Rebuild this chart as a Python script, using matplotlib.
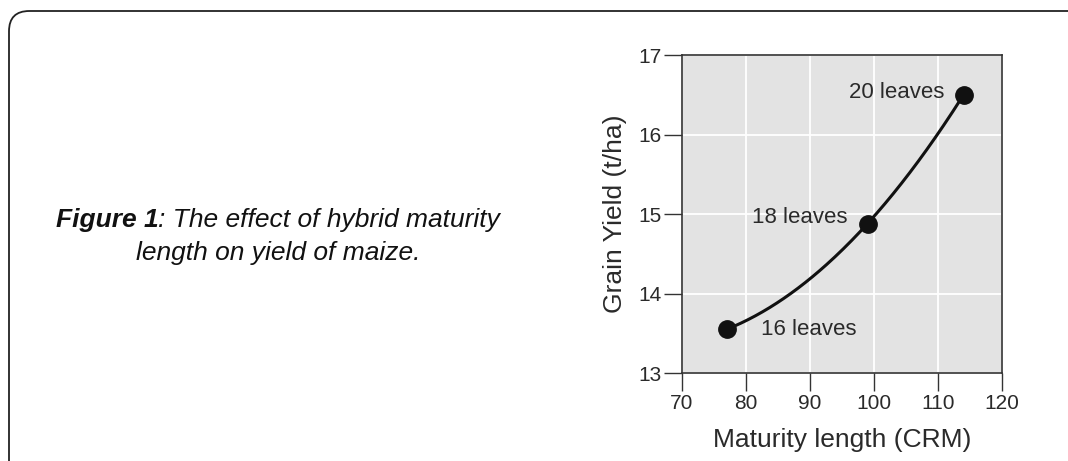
import numpy as np
import matplotlib
matplotlib.use("Agg")
import matplotlib.pyplot as plt
from matplotlib.patches import FancyBboxPatch

plt.rcParams['font.family'] = ['Liberation Sans', 'DejaVu Sans']

crm = [77, 99, 114]
yield_tha = [13.55, 14.88, 16.5]
labels = ["16 leaves", "18 leaves", "20 leaves"]
xticks = [70, 80, 90, 100, 110, 120]
yticks = [13, 14, 15, 16, 17]

W, H = 1068, 461
fig = plt.figure(figsize=(W / 100, H / 100), dpi=100)

# rounded frame (extends off the right/bottom edges)
frame = FancyBboxPatch((9 / W, -40 / H), (1100 - 9) / W, (H - 11 + 40) / H,
                       boxstyle="round,pad=0,rounding_size=0.019",
                       transform=fig.transFigure, fill=False,
                       edgecolor="#222222", linewidth=1.3, mutation_aspect=W / H)
fig.patches.append(frame)

ax = fig.add_axes([682 / W, 1 - 373 / H, 320 / W, 318 / H])
ax.set_facecolor("#e3e3e3")
ax.set_xlim(70, 120)
ax.set_ylim(13, 17)
ax.set_xticks(xticks)
ax.set_yticks(yticks)
ax.grid(True, color="white", linewidth=1.3)
ax.set_axisbelow(True)
for s in ax.spines.values():
    s.set_color("#333333")
    s.set_linewidth(1.2)
ax.tick_params(axis="both", direction="out", length=13, width=1.0,
               color="#333333", labelsize=15, labelcolor="#2a2a2a", pad=2)

# smooth curve through the points
coef = np.polyfit(crm, yield_tha, 2)
xs = np.linspace(min(crm), max(crm), 200)
ax.plot(xs, np.polyval(coef, xs), color="#111111", linewidth=2.2, zorder=3)
ax.plot(crm, yield_tha, "o", color="#111111", markersize=12.5, zorder=4)

offsets = [(34, 0, "left"), (-20, 6, "right"), (-19, 2, "right")]
for x, y, lab, (dx, dy, ha) in zip(crm, yield_tha, labels, offsets):
    ax.annotate(lab, (x, y), xytext=(dx, dy), textcoords="offset pixels",
                ha=ha, va="center", fontsize=16, color="#2a2a2a", zorder=5)

ax.set_xlabel("Maturity length (CRM)", fontsize=19, color="#2a2a2a", labelpad=11)
ax.set_ylabel("Grain Yield (t/ha)", fontsize=19, color="#2a2a2a", labelpad=8)

# caption (two centred lines, first with a bold-italic lead)
fig.canvas.draw()
r = fig.canvas.get_renderer()
cx = 278
fs = 19
lead = fig.text(0, 0, "Figure 1", fontsize=fs, fontweight="bold",
                fontstyle="italic", color="#111111", ha="left", va="baseline")
rest = fig.text(0, 0, ": The effect of hybrid maturity", fontsize=fs,
                fontstyle="italic", color="#111111", ha="left", va="baseline")
w1 = lead.get_window_extent(renderer=r).width
w2 = rest.get_window_extent(renderer=r).width
x0 = cx - (w1 + w2) / 2
lead.set_position((x0 / W, 1 - 227 / H))
rest.set_position(((x0 + w1) / W, 1 - 227 / H))
fig.text(cx / W, 1 - 260 / H, "length on yield of maize.", fontsize=fs,
         fontstyle="italic", color="#111111", ha="center", va="baseline")

fig.savefig("out.png", dpi=100)
